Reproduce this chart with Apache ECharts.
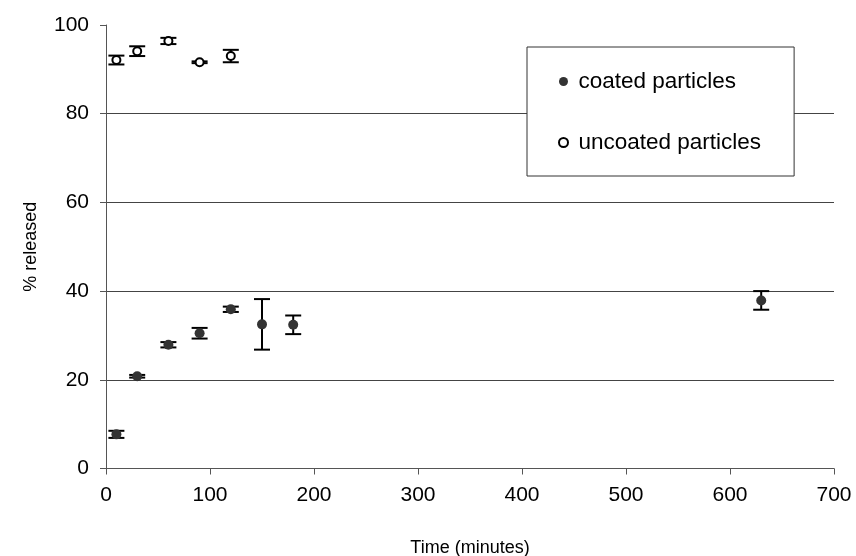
<!DOCTYPE html>
<html>
<head>
<meta charset="utf-8">
<script src="https://cdn.jsdelivr.net/npm/echarts@6/dist/echarts.min.js"></script>
<style>
  html, body { margin: 0; padding: 0; background: #fff; }
  #chart { width: 856px; height: 556px; }
</style>
</head>
<body>
<div id="chart"></div>
<script>
// Release profile: mean % released with error bars (±) over time
const coatedTime = [10, 30, 60, 90, 120, 150, 180, 630];
const coatedMean = [7.7, 20.8, 27.9, 30.5, 35.9, 32.5, 32.4, 37.9];
const coatedErr  = [0.8, 0.3, 0.6, 1.2, 0.6, 5.7, 2.1, 2.1];

const uncoatedTime = [10, 30, 60, 90, 120];
const uncoatedMean = [92.1, 94.1, 96.4, 91.6, 93.0];
const uncoatedErr  = [1.0, 1.1, 0.7, 0.2, 1.4];

const xTicks = [0, 100, 200, 300, 400, 500, 600, 700];
const yTicks = [0, 20, 40, 60, 80, 100];

const FONT = "'Liberation Sans', Arial, sans-serif";

function points(t, m) { return t.map((x, i) => [x, m[i]]); }
function bars(t, m, e) { return t.map((x, i) => [x, m[i] - e[i], m[i] + e[i]]); }

// Vertical error bar with horizontal caps
function renderErrorBar(params, api) {
  const x = api.value(0);
  const lo = api.coord([x, api.value(1)]);
  const hi = api.coord([x, api.value(2)]);
  const half = 8;
  const style = { stroke: '#000', lineWidth: 2 };
  return {
    type: 'group',
    children: [
      { type: 'line', shape: { x1: lo[0], y1: lo[1], x2: hi[0], y2: hi[1] }, style },
      { type: 'line', shape: { x1: hi[0] - half, y1: hi[1], x2: hi[0] + half, y2: hi[1] }, style },
      { type: 'line', shape: { x1: lo[0] - half, y1: lo[1], x2: lo[0] + half, y2: lo[1] }, style }
    ]
  };
}

const chart = echarts.init(document.getElementById('chart'), null, { renderer: 'canvas' });

chart.setOption({
  backgroundColor: '#fff',
  animation: false,
  textStyle: { fontFamily: FONT },
  grid: {
    left: 106, right: 22, top: 25, bottom: 87.5,
    containLabel: false,
    outerBoundsMode: 'none'
  },
  legend: {
    left: 527,
    top: 47,
    orient: 'vertical',
    data: ['coated particles', 'uncoated particles'],
    itemWidth: 20,
    itemHeight: 9,
    itemGap: 38,
    padding: [23, 33, 22, 31],
    borderColor: '#333',
    borderWidth: 1,
    backgroundColor: '#fff',
    textStyle: { fontFamily: FONT, fontSize: 22.5, color: '#000', lineHeight: 20 }
  },
  xAxis: {
    type: 'value',
    min: xTicks[0],
    max: xTicks[xTicks.length - 1],
    interval: 100,
    name: 'Time (minutes)',
    nameLocation: 'middle',
    nameGap: 71,
    nameTextStyle: { fontFamily: FONT, fontSize: 18, color: '#000' },
    axisLine: { show: true, onZero: false, lineStyle: { color: '#555', width: 1 } },
    axisTick: { show: true, length: 6, lineStyle: { color: '#555' } },
    axisLabel: { fontFamily: FONT, fontSize: 21, color: '#000', margin: 16 },
    splitLine: { show: false }
  },
  yAxis: {
    type: 'value',
    min: yTicks[0],
    max: yTicks[yTicks.length - 1],
    interval: 20,
    name: '% released',
    nameLocation: 'middle',
    nameGap: 66,
    nameTextStyle: { fontFamily: FONT, fontSize: 18, color: '#000' },
    axisLine: { show: true, lineStyle: { color: '#555', width: 1 } },
    axisTick: { show: true, length: 6, lineStyle: { color: '#555' } },
    axisLabel: { fontFamily: FONT, fontSize: 21, color: '#000', margin: 17 },
    splitLine: { show: true, showMinLine: false, showMaxLine: false, lineStyle: { color: '#444', width: 1 } }
  },
  series: [
    {
      name: 'coated error',
      type: 'custom',
      renderItem: renderErrorBar,
      data: bars(coatedTime, coatedMean, coatedErr),
      encode: { x: 0, y: [1, 2] },
      z: 2
    },
    {
      name: 'uncoated error',
      type: 'custom',
      renderItem: renderErrorBar,
      data: bars(uncoatedTime, uncoatedMean, uncoatedErr),
      encode: { x: 0, y: [1, 2] },
      z: 2
    },
    {
      name: 'coated particles',
      type: 'scatter',
      symbol: 'circle',
      symbolSize: 10,
      itemStyle: { color: '#333333', opacity: 1 },
      data: points(coatedTime, coatedMean),
      z: 3
    },
    {
      name: 'uncoated particles',
      type: 'scatter',
      symbol: 'circle',
      symbolSize: 8,
      itemStyle: { color: '#ffffff', borderColor: '#000', borderWidth: 2, opacity: 1 },
      data: points(uncoatedTime, uncoatedMean),
      z: 3
    }
  ]
});
</script>
</body>
</html>
